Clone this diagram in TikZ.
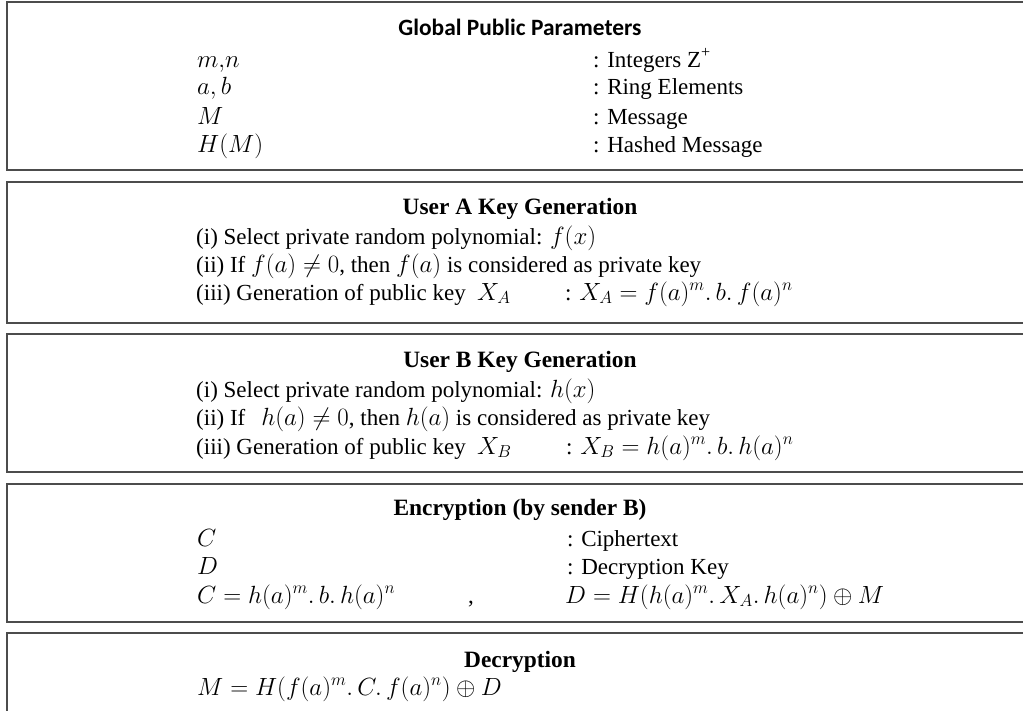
\documentclass[tikz,border=0pt]{standalone}
\usepackage{fontspec}
\setmainfont{Liberation Serif}
\newfontfamily\headsans{Carlito}
\begin{document}
\begin{tikzpicture}[x=1pt,y=-1pt,
  panel/.style={draw=black!70,line width=1.8pt},
  txt/.style={anchor=base west,inner sep=0pt,font=\fontsize{23}{28}\selectfont},
  head/.style={anchor=base,inner sep=0pt,font=\fontsize{23.4}{28}\selectfont\bfseries},
  sanshead/.style={anchor=base,inner sep=0pt,font=\fontsize{23.4}{28}\selectfont\headsans\bfseries}]
\useasboundingbox (0,0) rectangle (1023,710);
\clip (0,0) rectangle (1023,710);
\fill[white] (0,0) rectangle (1023,710);

% panels
\draw[panel] (7,2) rectangle (1045,170);
\draw[panel] (7,182) rectangle (1045,323);
\draw[panel] (7,334) rectangle (1045,472);
\draw[panel] (7,484) rectangle (1045,622);
\draw[panel] (7,633) rectangle (1045,760);

% global public parameters
\node[sanshead] (gT) at (520,35) {Global Public Parameters};
\node[txt] (g1) at (197,67) {$m{,}n$};
\node[txt] (g2) at (197,94) {$a,b$};
\node[txt] (g3) at (197,124) {$M$};
\node[txt] (g4) at (197,152) {$H(M)$};
\node[txt] (g1r) at (593,67) {: Integers Z\textsuperscript{+}};
\node[txt] (g2r) at (593,94) {: Ring Elements};
\node[txt] (g3r) at (593,124) {: Message};
\node[txt] (g4r) at (593,152) {: Hashed Message};

% user A
\node[head] (aT) at (520,214) {User A Key Generation};
\node[txt] (a1) at (196,244) {(i) Select private random polynomial: $f(x)$};
\node[txt] (a2) at (196,272) {(ii) If $f(a)\neq 0$, then $f(a)$ is considered as private key};
\node[txt] (a3) at (196,300) {(iii) Generation of public key\enspace $X_A$};
\node[txt] (a3r) at (565,300) {: $X_A = f(a)^m.\,b.\,f(a)^n$};

% user B
\node[head] (bT) at (520,367) {User B Key Generation};
\node[txt] (b1) at (196,397) {(i) Select private random polynomial: $h(x)$};
\node[txt] (b2) at (196,425) {(ii) If\hspace{16pt}$h(a)\neq 0$, then $h(a)$ is considered as private key};
\node[txt] (b3) at (196,454) {(iii) Generation of public key\enspace $X_B$};
\node[txt] (b3r) at (566,454) {: $X_B = h(a)^m.\,b.\,h(a)^n$};

% encryption
\node[head] (eT) at (520,515) {Encryption (by sender B)};
\node[txt] (e1) at (197,546) {$C$};
\node[txt] (e2) at (197,574) {$D$};
\node[txt] (e3) at (197,603) {$C = h(a)^m.\,b.\,h(a)^n$};
\node[txt] (e1r) at (567,546) {: Ciphertext};
\node[txt] (e2r) at (567,574) {: Decryption Key};
\node[txt] (ecm) at (468,603) {,};
\node[txt] (e3r) at (565,603) {$D = H(h(a)^m.\,X_A.\,h(a)^n)\oplus M$};

% decryption
\node[head] (dT) at (520,667) {Decryption};
\node[txt] (d1) at (197,695) {$M = H(f(a)^m.\,C.\,f(a)^n)\oplus D$};
\end{tikzpicture}
\end{document}
